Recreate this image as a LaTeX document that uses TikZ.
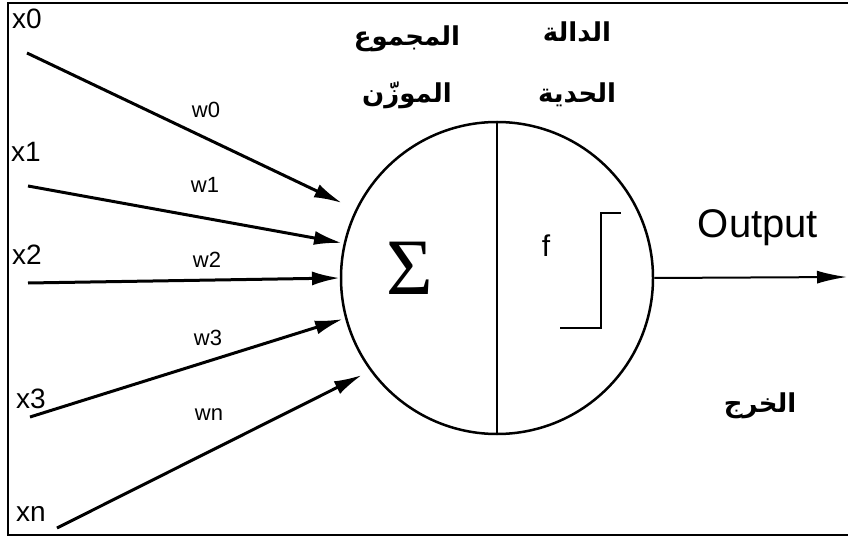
\documentclass[tikz,border=0pt]{standalone}
\usepackage{fontspec}
\setmainfont{Liberation Sans}
\newfontfamily\arabicfont[Script=Arabic]{DejaVu Sans}
\newfontfamily\greekfont{Liberation Serif}
\TeXXeTstate=1
\usetikzlibrary{positioning, arrows.meta}
\tikzset{
    inp/.style={font=\fontsize{28}{28}\selectfont, inner sep=0pt},
    wt/.style={font=\fontsize{22}{22}\selectfont, inner sep=0pt},
    ar/.style={font=\arabicfont\bfseries\fontsize{26}{26}\selectfont, inner sep=0pt,
      text height=17pt, text depth=5pt},
    syn/.style={-{Latex[length=28pt,width=14pt]}, line width=3pt},
}
\begin{document}
\begin{tikzpicture}[x=1pt, y=-1pt]
    \tikzset{
      every node/.append style={inner sep=0pt},
      thick line/.style={line width=2.5pt}
    }
    \useasboundingbox (0,0) rectangle (848,537);
    \draw[line width=2pt] (848,3) -- (8,3) -- (8,535) -- (848,535);

    \node[circle, draw, thick line, minimum size=312pt] (n) at (497,278) {};
    \draw[thick line] (n.north) -- (n.south);

    \node[inp] (x0) at (27,19) {x0};
    \node[inp] (x1) at (26,152) {x1};
    \node[inp] (x2) at (27,255) {x2};
    \node[inp] (x3) at (31,399) {x3};
    \node[inp] (xn) at (31,514) {xn};

    \coordinate (s0) at (27,53);  \coordinate (e0) at (342,203);
    \coordinate (s1) at (28,186); \coordinate (e1) at (342,243);
    \coordinate (s2) at (28,283); \coordinate (e2) at (340,278);
    \coordinate (s3) at (30,417); \coordinate (e3) at (343,319);
    \coordinate (sn) at (57,528); \coordinate (en) at (362,375);

    \draw[syn] (s0) -- (e0);
    \draw[syn] (s1) -- (e1);
    \draw[syn] (s2) -- (e2);
    \draw[syn] (s3) -- (e3);
    \draw[syn] (sn) -- (en);

    \node[wt] (w0) at (206,110) {w0};
    \node[wt] (w1) at (205,185) {w1};
    \node[wt] (w2) at (207,260) {w2};
    \node[wt] (w3) at (208,338) {w3};
    \node[wt] (wn) at (209,415) {wn};

    \node[font=\greekfont\fontsize{80}{80}\selectfont] (sum) at (410,268) {Σ};
    \node[font=\fontsize{30}{30}\selectfont] (f) at (546,246) {f};
    \draw[thick line] (560,328) -- (601,328) -- (601,213) -- (621,213);

    \coordinate (out) at (847,277);
    \draw[-{Latex[length=30pt,width=13pt]}, line width=2pt] (n.east) -- (out);
    \node[font=\fontsize{40}{40}\selectfont] (otxt) at (758,228) {Output};

    \node[ar] (a1) at (407,40) {\beginR المجموع\endR};
    \node[ar] (a2) at (407,97) {\beginR الموزّن\endR};
    \node[ar] (a3) at (577,36) {\beginR الدالة\endR};
    \node[ar] (a4) at (577,97) {\beginR الحدية\endR};
    \node[ar] (a5) at (760,406) {\beginR الخرج\endR};
\end{tikzpicture}
\end{document}
